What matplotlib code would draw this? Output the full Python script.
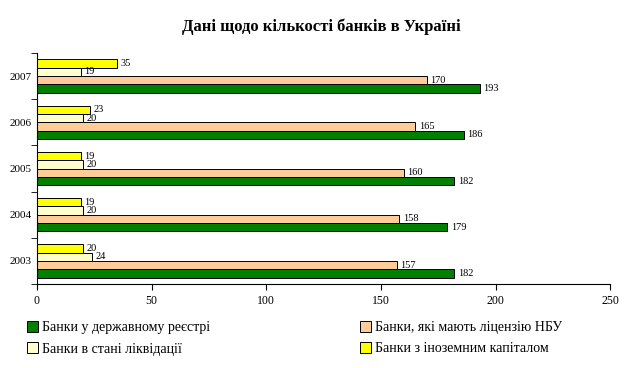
import matplotlib
matplotlib.use("Agg")
import matplotlib.pyplot as plt
import numpy as np
from matplotlib.patches import Patch

years = ["2003", "2004", "2005", "2006", "2007"]
registry = [182, 179, 182, 186, 193]
license_nbu = [157, 158, 160, 165, 170]
liquidation = [24, 20, 20, 20, 19]
foreign = [20, 19, 19, 23, 35]

series_names = ["Банки у державному реєстрі", "Банки, які мають ліцензію НБУ",
                "Банки в стані ліквідації", "Банки з іноземним капіталом"]
colors = ["#008000", "#FFCC99", "#FFFFCC", "#FFFF00"]

plt.rcParams['font.family'] = ['Liberation Serif', 'DejaVu Serif']

fig = plt.figure(figsize=(6.42, 3.68), dpi=100)
ax = fig.add_axes([0.0576, 0.228, 0.893, 0.628])

y = np.arange(len(years))
h = 0.18
data = [registry, license_nbu, liquidation, foreign]
offsets = [-1.5 * h, -0.5 * h, 0.5 * h, 1.5 * h]
for vals, off, c in zip(data, offsets, colors):
    bars = ax.barh(y + off, vals, height=h, color=c, edgecolor='black', linewidth=0.7)
    for b, v in zip(bars, vals):
        ax.text(v + 1.5, b.get_y() + b.get_height() / 2, str(v), va='center', ha='left', fontsize=7.5)

ax.set_xlim(0, 250)
ax.set_ylim(-0.5, len(years) - 0.5)
ax.set_xticks([0, 50, 100, 150, 200, 250])
ax.tick_params(axis='x', labelsize=8.5, direction='out', length=4)
ax.set_yticks(y)
ax.set_yticklabels(years, fontsize=8)
ax.tick_params(axis='y', length=0, pad=4)
ax.set_yticks(np.arange(-0.5, len(years), 1), minor=True)
ax.tick_params(axis='y', which='minor', length=4, direction='out')
ax.spines['top'].set_visible(False)
ax.spines['right'].set_visible(False)

fig.suptitle("Дані щодо кількості банків в Україні", fontsize=12, fontweight='bold', y=0.95)

handles = [Patch(facecolor=c, edgecolor='black', linewidth=0.7) for c in colors]
order = [0, 2, 1, 3]
fig.legend([handles[i] for i in order], [series_names[i] for i in order], ncol=2,
           loc='lower left', bbox_to_anchor=(0.022, 0.0),
           frameon=False, fontsize=10, handlelength=0.8, handleheight=0.8, handletextpad=0.3,
           columnspacing=10.8, labelspacing=0.6)

fig.savefig("out.png", dpi=100)
